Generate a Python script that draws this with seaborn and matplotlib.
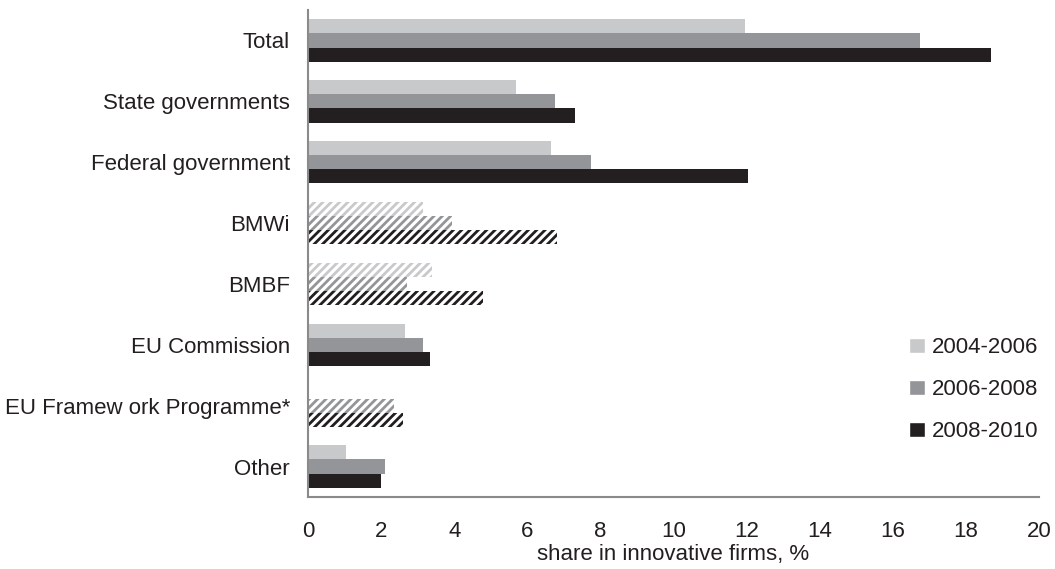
import numpy as np
import pandas as pd
import matplotlib
matplotlib.use("Agg")
import matplotlib.pyplot as plt
import seaborn as sns

# Data
categories = [
    "Total",
    "State governments",
    "Federal government",
    "BMWi",
    "BMBF",
    "EU Commission",
    "EU Framew ork Programme*",
    "Other",
]
periods = ["2004-2006", "2006-2008", "2008-2010"]
share_2004_2006 = [11.95, 5.7, 6.65, 3.15, 3.4, 2.65, np.nan, 1.05]
share_2006_2008 = [16.75, 6.75, 7.75, 3.95, 2.7, 3.15, 2.35, 2.1]
share_2008_2010 = [18.7, 7.3, 12.05, 6.8, 4.8, 3.35, 2.6, 2.0]
hatched = ["BMWi", "BMBF", "EU Framew ork Programme*"]

colors = ["#c8c9cb", "#939598", "#231f20"]
text_color = "#231f20"
spine_color = "#8a8a8a"

df = pd.DataFrame({
    "category": categories * 3,
    "period": [p for p in periods for _ in categories],
    "share": share_2004_2006 + share_2006_2008 + share_2008_2010,
})

sns.set_style("white")
plt.rcParams["font.family"] = ["Liberation Sans", "DejaVu Sans"]
plt.rcParams["hatch.linewidth"] = 2.0

fig = plt.figure(figsize=(10.55, 5.69), dpi=100)
ax = fig.add_axes([308 / 1055, 1 - 497 / 569, 731 / 1055, 487 / 569])

sns.barplot(
    data=df, y="category", x="share", hue="period",
    order=categories, hue_order=periods, palette=colors,
    orient="h", width=0.7, saturation=1, ax=ax, legend=True,
)

# hatch the bars of the programme rows
for container, col in zip(ax.containers, colors):
    for bar in container:
        idx = int(round(bar.get_y() + bar.get_height() / 2))
        bar.set_linewidth(0)
        if categories[idx] in hatched:
            bar.set_facecolor("white")
            bar.set_edgecolor(col)
            bar.set_hatch("////")

ax.set_xlim(0, 20)
ax.set_ylim(len(categories) - 0.5, -0.5)
ax.set_xticks(range(0, 21, 2))
ax.set_xlabel("share in innovative firms, %", fontsize=16, color=text_color, labelpad=2)
ax.set_ylabel("")

for side in ["top", "right"]:
    ax.spines[side].set_visible(False)
for side in ["left", "bottom"]:
    ax.spines[side].set_color(spine_color)
    ax.spines[side].set_linewidth(1.5)

ax.tick_params(axis="x", length=4, width=1.2, color=spine_color, pad=13,
               labelsize=16, labelcolor=text_color, direction="out")
ax.tick_params(axis="y", length=0, pad=13, labelsize=16, labelcolor=text_color)

handles, labels = ax.get_legend_handles_labels()
ax.legend(
    handles, labels, loc="center left", bbox_to_anchor=(0.807, 0.22),
    frameon=False, fontsize=16, handlelength=0.7, handleheight=0.7,
    handletextpad=0.35, labelspacing=0.95, borderpad=0, labelcolor=text_color,
)

fig.savefig("out.png", dpi=100)
